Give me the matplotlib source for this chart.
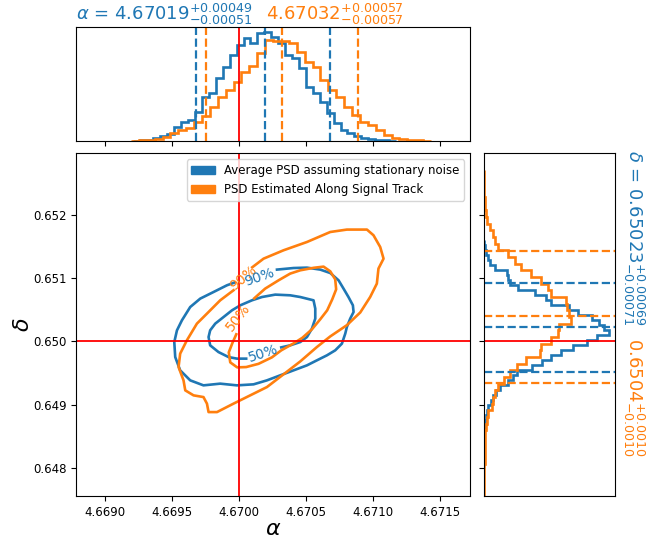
import numpy as np
import matplotlib
matplotlib.use("Agg")
import matplotlib.pyplot as plt
from matplotlib.patches import Patch

plt.rcParams["font.size"] = 8.5

# true injected values
truth_alpha = 4.6700
truth_delta = 0.6500

# marginal histogram of alpha (heights, arbitrary units)
alpha_range_blue = (4.669204, 4.671171)
alpha_counts_blue = [0.3, 0.5, 1, 3.3, 5, 7.3, 14.3, 18.7, 21, 28.7, 44.3, 47.7, 63.3,
                     74.3, 86, 96, 102.7, 97.7, 107.7, 109, 104.3, 97.7, 86, 82.7, 73.3,
                     54.3, 47.7, 39.3, 27.7, 17.7, 11, 7.7, 5.3, 2.7, 1.7, 1, 0.7, 0.3]
alpha_range_orange = (4.669191, 4.671433)
alpha_counts_orange = [0.3, 0.7, 1.0, 2, 4, 7.7, 11, 12.7, 19.3, 25.3, 34.3, 44.3, 51,
                       59.3, 69.3, 75.3, 87.7, 101, 100, 100, 97.7, 89.3, 79.3, 74.3, 61,
                       51, 44.3, 34.3, 26, 19.3, 16, 11, 6, 3.3, 2, 1, 0.7, 0.3]

# marginal histogram of delta (low -> high)
delta_range_blue = (0.648436, 0.651596)
delta_counts_blue = [0.3, 0.3, 0.7, 1.0, 1.7, 2.7, 4.3, 6.7, 9, 12, 16, 24, 29, 33, 48,
                     58, 68, 78, 90, 104, 114, 126, 121, 116, 109, 94.3, 86, 67.7, 62.7,
                     51, 34.3, 26, 24.3, 22.7, 11, 6.0, 4.3, 2.0, 0.7, 0.3]
delta_range_orange = (0.647540, 0.652701)
delta_counts_orange = [0.3, 0.3, 0.3, 0.3, 0.3, 0.7, 1.0, 1.0, 1.0, 1.0, 2.0, 2.7, 4.3,
                       7.7, 9.3, 11, 14.3, 20, 26, 33, 42.7, 56, 57.7, 67.7, 74.3, 76,
                       87.7, 86, 83.7, 82.7, 67.7, 64.3, 57.7, 47.7, 37.7, 31, 24.3, 14,
                       11, 9.3, 6.0, 2.7, 2.0, 1.0, 0.7, 0.3, 0.3, 0.3, 0.3]

# median and 16/84 % quantiles
alpha_q_blue = [4.66968, 4.67019, 4.67068]
alpha_q_orange = [4.66975, 4.67032, 4.67089]
delta_q_blue = [0.64952, 0.65023, 0.65092]
delta_q_orange = [0.64935, 0.65040, 0.65142]

# credible contours (alpha, delta)
blue90_alpha = [4.670282, 4.670406, 4.670506, 4.670605, 4.670680, 4.670742, 4.670779,
                4.670816, 4.670849, 4.670854, 4.670829, 4.670804, 4.670792, 4.670767,
                4.670717, 4.670655, 4.670580, 4.670506, 4.670406, 4.670306, 4.670207,
                4.670107, 4.669983, 4.669858, 4.669733, 4.669634, 4.669559, 4.669522,
                4.669515, 4.669535, 4.669572, 4.669634, 4.669709, 4.669808, 4.669908,
                4.669963]
blue90_delta = [0.651133, 0.651158, 0.651164, 0.651133, 0.651079, 0.650964, 0.650833,
                0.650700, 0.650569, 0.650463, 0.650359, 0.650226, 0.650122, 0.649964,
                0.649858, 0.649779, 0.649700, 0.649621, 0.649542, 0.649463, 0.649384,
                0.649321, 0.649305, 0.649332, 0.649305, 0.649384, 0.649542, 0.649752,
                0.649989, 0.650174, 0.650332, 0.650542, 0.650675, 0.650779, 0.650885,
                0.650927]
blue50_alpha = [4.670314, 4.670381, 4.670456, 4.670506, 4.670543, 4.670568, 4.670568,
                4.670555, 4.670456, 4.670381, 4.670269, 4.670170, 4.670095, 4.670008,
                4.669946, 4.669883, 4.669821, 4.669783, 4.669771, 4.669783, 4.669845,
                4.669920, 4.669983, 4.670052]
blue50_delta = [0.649905, 0.649937, 0.649989, 0.650068, 0.650201, 0.650359, 0.650517,
                0.650648, 0.650700, 0.650727, 0.650738, 0.650700, 0.650648, 0.650569,
                0.650490, 0.650384, 0.650280, 0.650174, 0.650068, 0.649937, 0.649831,
                0.649752, 0.649727, 0.649727]
orange90_alpha = [4.670097, 4.670182, 4.670331, 4.670506, 4.670680, 4.670804, 4.670954,
                  4.671003, 4.671053, 4.671078, 4.671040, 4.671028, 4.670978, 4.670904,
                  4.670804, 4.670680, 4.670580, 4.670456, 4.670356, 4.670207, 4.670082,
                  4.669957, 4.669834, 4.669771, 4.669759, 4.669733, 4.669659, 4.669597,
                  4.669584, 4.669547, 4.669559, 4.669609, 4.669684, 4.669759, 4.669858,
                  4.669957]
orange90_delta = [0.651169, 0.651306, 0.651438, 0.651569, 0.651727, 0.651765, 0.651765,
                  0.651675, 0.651490, 0.651306, 0.651149, 0.650912, 0.650700, 0.650456,
                  0.650255, 0.650078, 0.649910, 0.649683, 0.649520, 0.649278, 0.649147,
                  0.649016, 0.648883, 0.648883, 0.649016, 0.649120, 0.649147, 0.649226,
                  0.649384, 0.649594, 0.649806, 0.650016, 0.650280, 0.650438, 0.650648,
                  0.650806]
orange50_alpha = [4.670112, 4.670194, 4.670294, 4.670381, 4.670456, 4.670555, 4.670630,
                  4.670680, 4.670717, 4.670724, 4.670695, 4.670657, 4.670605, 4.670543,
                  4.670471, 4.670403, 4.670314, 4.670244, 4.670144, 4.670052, 4.669985,
                  4.669933, 4.669922, 4.669948, 4.669978]
orange50_delta = [0.650679, 0.650833, 0.650964, 0.651070, 0.651122, 0.651161, 0.651180,
                  0.651106, 0.650979, 0.650821, 0.650664, 0.650490, 0.650348, 0.650190,
                  0.650055, 0.649964, 0.649858, 0.649747, 0.649645, 0.649594, 0.649589,
                  0.649668, 0.649826, 0.649968, 0.650111]

# contour labels: (text, alpha, delta, rotation)
blue_labels = [("90%", 4.67015, 0.65102, 19), ("50%", 4.67018, 0.64981, 18)]
orange_labels = [("90%", 4.67003, 0.65100, 40), ("50%", 4.669995, 0.65038, 52)]

alpha_ticks = [4.6690, 4.6695, 4.6700, 4.6705, 4.6710, 4.6715]
delta_ticks = [0.648, 0.649, 0.650, 0.651, 0.652]

c_blue = "#1f77b4"
c_orange = "#ff7f0e"
lw_line = 1.9

fig = plt.figure(figsize=(6.47, 5.42), dpi=100)
ax = fig.add_axes([0.1179, 0.0849, 0.6090, 0.6323])
ax_top = fig.add_axes([0.1179, 0.7399, 0.6090, 0.2109], sharex=ax)
ax_right = fig.add_axes([0.7481, 0.0849, 0.2029, 0.6323], sharey=ax)

# joint panel
for a, d, col in [(blue90_alpha, blue90_delta, c_blue),
                  (blue50_alpha, blue50_delta, c_blue),
                  (orange90_alpha, orange90_delta, c_orange),
                  (orange50_alpha, orange50_delta, c_orange)]:
    ax.plot(a, d, color=col, lw=lw_line)
for txt, a, d, rot in orange_labels:
    ax.text(a, d, txt, color=c_orange, fontsize=10, rotation=rot,
            ha="center", va="center", rotation_mode="anchor")
for txt, a, d, rot in blue_labels:
    ax.text(a, d, txt, color=c_blue, fontsize=10, rotation=rot,
            ha="center", va="center", rotation_mode="anchor")

ax.axvline(truth_alpha, color="red", lw=1.3)
ax.axhline(truth_delta, color="red", lw=1.3)
ax.set_xlim(4.668783, 4.671726)
ax.set_ylim(0.647558, 0.652970)
ax.set_xticks(alpha_ticks)
ax.set_xticklabels([f"{t:.4f}" for t in alpha_ticks])
ax.set_yticks(delta_ticks)
ax.set_yticklabels([f"{t:.3f}" for t in delta_ticks])
ax.set_xlabel(r"$\alpha$", fontsize=16, labelpad=0)
ax.set_ylabel(r"$\delta$", fontsize=16, labelpad=0)
ax.legend(handles=[Patch(color=c_blue, label="Average PSD assuming stationary noise"),
                   Patch(color=c_orange, label="PSD Estimated Along Signal Track")],
          loc="upper right")

# top marginal
ax_top.stairs(alpha_counts_blue, np.linspace(*alpha_range_blue, len(alpha_counts_blue) + 1),
              color=c_blue, lw=lw_line)
ax_top.stairs(alpha_counts_orange, np.linspace(*alpha_range_orange, len(alpha_counts_orange) + 1),
              color=c_orange, lw=lw_line)
for q in alpha_q_blue:
    ax_top.axvline(q, color=c_blue, ls="--", lw=1.6)
for q in alpha_q_orange:
    ax_top.axvline(q, color=c_orange, ls="--", lw=1.6)
ax_top.axvline(truth_alpha, color="red", lw=1.3)
ax_top.set_yticks([])
ax_top.tick_params(labelbottom=False)
ax_top.text(0.0, 1.0, r"$\alpha$ = $4.67019^{+0.00049}_{-0.00051}$", color=c_blue,
            fontsize=13, transform=ax_top.transAxes, ha="left", va="bottom")
ax_top.text(0.481, 1.0, r"$4.67032^{+0.00057}_{-0.00057}$", color=c_orange,
            fontsize=13, transform=ax_top.transAxes, ha="left", va="bottom")

# right marginal
ax_right.stairs(delta_counts_blue, np.linspace(*delta_range_blue, len(delta_counts_blue) + 1),
                color=c_blue, lw=lw_line, orientation="horizontal")
ax_right.stairs(delta_counts_orange, np.linspace(*delta_range_orange, len(delta_counts_orange) + 1),
                color=c_orange, lw=lw_line, orientation="horizontal")
for q in delta_q_blue:
    ax_right.axhline(q, color=c_blue, ls="--", lw=1.6)
for q in delta_q_orange:
    ax_right.axhline(q, color=c_orange, ls="--", lw=1.6)
ax_right.axhline(truth_delta, color="red", lw=1.3)
ax_right.set_xticks([])
ax_right.tick_params(labelleft=False)
ax_right.text(1.04, 1.01, r"$\delta$ = $0.65023^{+0.00069}_{-0.00071}$", color=c_blue,
              fontsize=13, rotation=-90, transform=ax_right.transAxes, ha="left", va="top")
ax_right.text(1.04, 0.461, r"$0.6504^{+0.0010}_{-0.0010}$", color=c_orange,
              fontsize=13, rotation=-90, transform=ax_right.transAxes, ha="left", va="top")

fig.savefig("out.png", dpi=100)
